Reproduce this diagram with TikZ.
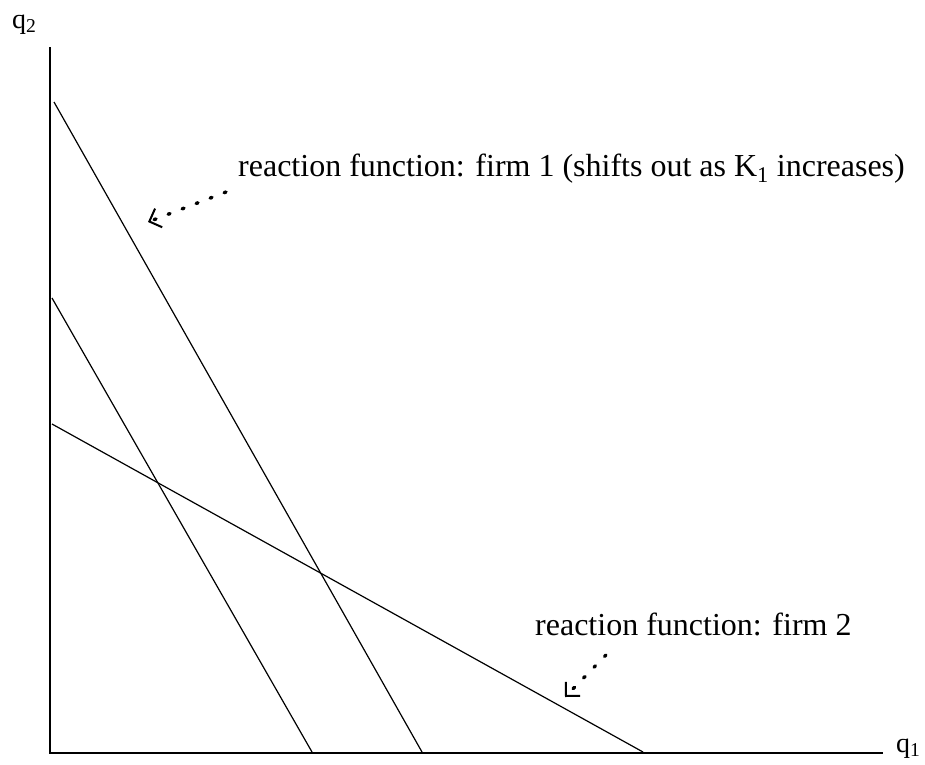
\documentclass[tikz,border=0pt]{standalone}
\usepackage{fontspec}
\setmainfont{Liberation Serif}
\usetikzlibrary{arrows.meta}
\begin{document}
\begin{tikzpicture}[
    x=1pt, y=-1pt,
    every node/.style={font=\fontsize{32}{38}\selectfont, inner sep=0pt},
    axis/.style={line width=1.4pt},
    curve/.style={line width=1.2pt},
    pointer/.style={line width=3.4pt, line cap=round, dash pattern=on 2pt off 13pt,
        -{Straight Barb[length=10pt, width=20pt, line width=2pt]}},
    label/.style={anchor=base west},
    axlabel/.style={font=\fontsize{28}{32}\selectfont, anchor=base west}
]
\useasboundingbox (0,0) rectangle (925,764);

% osy
\coordinate (O) at (50,753);
\coordinate (Ytop) at (50,47);
\coordinate (Xend) at (883,753);
\draw[axis] (Ytop) -- (O) -- (Xend);
\node[axlabel] (q2) at (12,28) {q\textsubscript{2}};
\node[axlabel] (q1) at (896,752) {q\textsubscript{1}};

% reakční funkce
\coordinate (A1) at (54,102);
\coordinate (A2) at (422,752);
\coordinate (B1) at (52,298);
\coordinate (B2) at (312,752);
\coordinate (C1) at (52,424);
\coordinate (C2) at (643,752);
\draw[curve] (A1) -- (A2);
\draw[curve] (B1) -- (B2);
\draw[curve] (C1) -- (C2);

% popisky
\node[label] (lab1) at (238,176) {reaction function: firm 1 (shifts out as K\textsubscript{1} increases)};
\node[label] (lab2) at (535,635) {reaction function: firm 2};
\coordinate (p1) at (148,222);
\coordinate (p2) at (565,697);
\draw[pointer] (226,192) -- (p1);
\draw[pointer] (606,655) -- (p2);

\end{tikzpicture}
\end{document}
